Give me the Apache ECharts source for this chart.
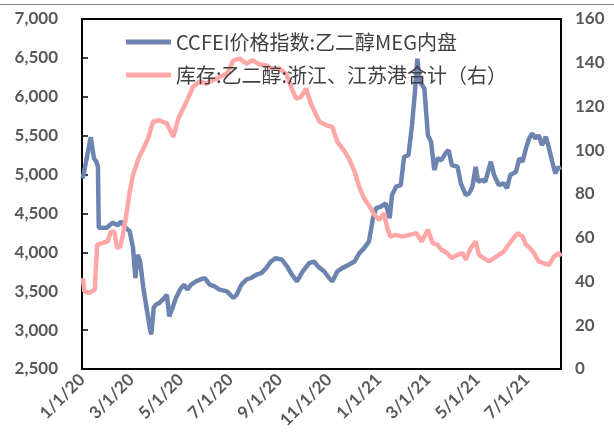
<!DOCTYPE html>
<html>
<head>
<meta charset="utf-8">
<script src="https://cdn.jsdelivr.net/npm/echarts@6/dist/echarts.min.js"></script>
<style>
html,body{margin:0;padding:0;background:#fff;}
#chart{width:614px;height:439px;}
</style>
</head>
<body>
<div id="chart"></div>
<script>
// ---- data ----
const xTickLabels = ['1/1/20','3/1/20','5/1/20','7/1/20','9/1/20','11/1/20','1/1/21','3/1/21','5/1/21','7/1/21'];
const leftTicks = [2500, 7000, 500];   // min, max, step
const rightTicks = [0, 160, 20];
const seriesNames = ['CCFEI价格指数:乙二醇MEG内盘', '库存:乙二醇:浙江、江苏港合计（右）'];

const priceDates = ['2020-01-02','2020-01-12','2020-01-16','2020-01-19','2020-01-21','2020-01-22','2020-02-01','2020-02-08','2020-02-14','2020-02-18','2020-02-22','2020-02-28','2020-03-03','2020-03-06','2020-03-09','2020-03-12','2020-03-16','2020-03-20','2020-03-24','2020-03-26','2020-03-29','2020-04-01','2020-04-05','2020-04-11','2020-04-14','2020-04-17','2020-04-21','2020-04-25','2020-04-30','2020-05-05','2020-05-09','2020-05-14','2020-05-20','2020-05-25','2020-05-31','2020-06-06','2020-06-12','2020-06-18','2020-06-27','2020-07-05','2020-07-09','2020-07-15','2020-07-21','2020-07-27','2020-08-03','2020-08-09','2020-08-15','2020-08-21','2020-08-27','2020-09-04','2020-09-10','2020-09-16','2020-09-22','2020-09-29','2020-10-07','2020-10-13','2020-10-19','2020-10-26','2020-11-01','2020-11-05','2020-11-11','2020-11-17','2020-11-25','2020-12-02','2020-12-08','2020-12-14','2020-12-20','2020-12-23','2020-12-25','2020-12-29','2021-01-04','2021-01-10','2021-01-15','2021-01-18','2021-01-23','2021-01-29','2021-02-02','2021-02-07','2021-02-11','2021-02-14','2021-02-17','2021-02-20','2021-02-25','2021-03-01','2021-03-05','2021-03-09','2021-03-13','2021-03-18','2021-03-23','2021-03-27','2021-03-31','2021-04-07','2021-04-11','2021-04-17','2021-04-21','2021-04-25','2021-04-29','2021-05-02','2021-05-07','2021-05-11','2021-05-18','2021-05-22','2021-05-28','2021-06-03','2021-06-07','2021-06-11','2021-06-18','2021-06-22','2021-06-26','2021-06-30','2021-07-04','2021-07-08','2021-07-12','2021-07-16','2021-07-20','2021-07-25','2021-07-29','2021-08-02','2021-08-06','2021-08-10','2021-08-12'];
const priceValues = [4950,5480,5210,5165,5100,4315,4315,4380,4350,4395,4330,4270,4060,3670,3970,3880,3540,3285,3030,2945,3290,3330,3350,3413,3455,3177,3290,3413,3520,3585,3520,3585,3626,3648,3670,3585,3562,3520,3498,3413,3455,3585,3648,3670,3712,3733,3797,3882,3925,3904,3818,3712,3626,3754,3861,3882,3810,3754,3670,3626,3754,3797,3840,3882,3990,4054,4140,4310,4438,4567,4588,4630,4438,4737,4844,4865,5228,5250,5635,6020,6490,6190,6105,5506,5420,5058,5208,5186,5272,5314,5122,5100,4887,4737,4758,4844,5100,4908,4930,4908,5165,4994,4865,4887,4823,4994,5036,5208,5165,5336,5464,5528,5464,5506,5378,5485,5336,5165,5015,5100,5058];

const stockDates = ['2020-01-02','2020-01-04','2020-01-10','2020-01-17','2020-01-20','2020-01-26','2020-02-02','2020-02-06','2020-02-10','2020-02-13','2020-02-17','2020-02-20','2020-02-24','2020-02-28','2020-03-03','2020-03-10','2020-03-16','2020-03-22','2020-03-28','2020-04-05','2020-04-14','2020-04-22','2020-04-28','2020-05-04','2020-05-10','2020-05-16','2020-05-25','2020-06-02','2020-06-10','2020-06-18','2020-06-27','2020-07-05','2020-07-13','2020-07-21','2020-07-29','2020-08-07','2020-08-15','2020-08-23','2020-08-31','2020-09-09','2020-09-15','2020-09-21','2020-09-27','2020-10-03','2020-10-10','2020-10-16','2020-10-20','2020-10-28','2020-11-05','2020-11-11','2020-11-19','2020-11-25','2020-12-02','2020-12-08','2020-12-14','2020-12-21','2020-12-27','2021-01-02','2021-01-08','2021-01-12','2021-01-16','2021-01-22','2021-01-31','2021-02-08','2021-02-16','2021-02-22','2021-03-01','2021-03-07','2021-03-13','2021-03-18','2021-03-25','2021-03-31','2021-04-07','2021-04-13','2021-04-17','2021-04-23','2021-04-29','2021-05-03','2021-05-09','2021-05-16','2021-05-22','2021-05-28','2021-06-03','2021-06-09','2021-06-15','2021-06-20','2021-06-26','2021-06-30','2021-07-05','2021-07-10','2021-07-16','2021-07-22','2021-07-29','2021-08-04','2021-08-10','2021-08-13'];
const stockValues = [41.6,35.5,34.8,36.2,56.8,57.5,58.3,62.8,62.8,55.3,56,61.3,70.4,81,88.7,96.3,100.8,105.4,113,113.7,112.2,106.1,114.5,119.1,123.6,128.9,131.5,130.5,132,133.5,135,141.1,141.9,139.6,141.1,139.2,138.8,137.3,137.5,135,128.9,123.6,124.4,128.2,120.6,116,113,111.5,110.7,103.8,100,96.3,90.2,83,78,74.2,70.4,68.2,71.2,64.4,60.5,61.3,60.5,61.3,62.1,58.3,63.6,57.5,56.8,54.5,53,50.7,52.2,53,50,55.3,58.3,52.2,50.7,49.2,50.7,52.2,53.7,56.8,59.8,62.1,60.5,56.8,55.3,53,49.2,48.4,47.6,51.4,53,51.4];

// ---- helpers ----
function monthIndex(s) {
  const p = s.split('-').map(Number);
  const dim = new Date(p[0], p[1], 0).getDate();
  return (p[0] - 2020) * 12 + (p[1] - 1) + (p[2] - 1) / dim;
}
const xMax = monthIndex('2021-08-13');
const pricePairs = priceDates.map((d, i) => [monthIndex(d), priceValues[i]]);
const stockPairs = stockDates.map((d, i) => [monthIndex(d), stockValues[i]]);

const labelFont = {color: '#595959', fontFamily: 'Lato', fontSize: 17, fontWeight: 'bold'};

const chart = echarts.init(document.getElementById('chart'));
chart.setOption({
  animation: false,
  backgroundColor: '#fff',
  grid: {
    left: 82, right: 53, top: 19, bottom: 70,
    show: true, borderColor: '#000', borderWidth: 2,
    outerBoundsMode: 'none'
  },
  legend: {
    orient: 'vertical', left: 121, top: 27, itemGap: 13,
    icon: 'rect', itemWidth: 45, itemHeight: 5,
    textStyle: {color: '#404040', fontSize: 20, fontFamily: 'Noto Sans CJK SC', lineHeight: 20},
    data: seriesNames
  },
  graphic: [{type: 'line', shape: {x1: 0, y1: 4.5, x2: 614, y2: 4.5}, style: {stroke: '#8a8a8a', lineWidth: 1}}],
  xAxis: {
    type: 'value', min: 0, max: xMax, interval: 2,
    axisLine: {show: false}, axisTick: {show: false}, splitLine: {show: false},
    axisLabel: Object.assign({
      rotate: 45, margin: 8,
      formatter: v => {
        const k = Math.round(v);
        if (Math.abs(v - k) > 1e-6 || k % 2 !== 0) return '';
        return xTickLabels[k / 2] || '';
      }
    }, labelFont)
  },
  yAxis: [{
    type: 'value', min: leftTicks[0], max: leftTicks[1], interval: leftTicks[2],
    axisLine: {show: false}, splitLine: {show: false},
    axisTick: {show: true, inside: true, length: 6, lineStyle: {color: '#000', width: 1.5}},
    axisLabel: Object.assign({margin: 24, formatter: v => v.toLocaleString('en-US')}, labelFont)
  }, {
    type: 'value', min: rightTicks[0], max: rightTicks[1], interval: rightTicks[2],
    position: 'right',
    axisLine: {show: false}, splitLine: {show: false}, axisTick: {show: false},
    axisLabel: Object.assign({margin: 14}, labelFont)
  }],
  series: [{
    name: seriesNames[0], type: 'line', yAxisIndex: 0, data: pricePairs,
    symbol: 'none', lineStyle: {width: 4.5, color: '#6E84B0'}, itemStyle: {color: '#6E84B0'}
  }, {
    name: seriesNames[1], type: 'line', yAxisIndex: 1, data: stockPairs,
    symbol: 'none', lineStyle: {width: 4.5, color: '#FFA7A7'}, itemStyle: {color: '#FFA7A7'}
  }]
});
</script>
</body>
</html>
